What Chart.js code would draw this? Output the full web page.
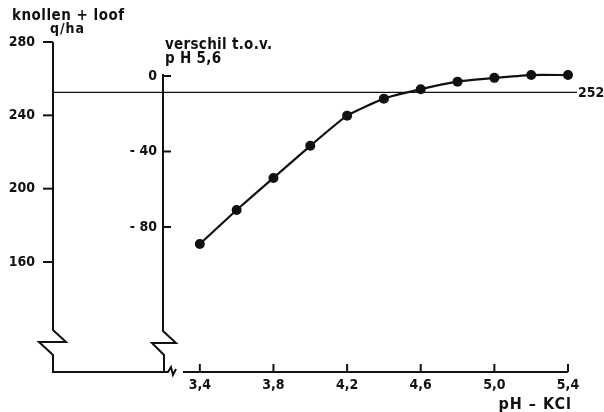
<!DOCTYPE html>
<html>
<head>
<meta charset="utf-8">
<script src="https://cdn.jsdelivr.net/npm/chart.js@4/dist/chart.umd.min.js"></script>
<style>
  html, body { margin: 0; padding: 0; background: #fff; }
  #wrap { width: 604px; height: 412px; }
</style>
</head>
<body>
<div id="wrap"><canvas id="chart" width="604" height="412"></canvas></div>
<script>
// values
var phValues   = [3.4, 3.6, 3.8, 4.0, 4.2, 4.4, 4.6, 4.8, 5.0, 5.2, 5.4];
var diffValues = [-89, -71, -54, -37, -21, -12, -7, -3, -1, 0.5, 0.5];
var xTicks     = [3.4, 3.8, 4.2, 4.6, 5.0, 5.4];
var diffTicks  = [0, -40, -80];
var yieldTicks = [160, 200, 240, 280];
var refYield   = 252;

var FONT = "'DejaVu Sans Condensed', 'DejaVu Sans', sans-serif";
Chart.defaults.font.family = FONT;
Chart.defaults.font.size = 14;
Chart.defaults.font.weight = 'bold';
Chart.defaults.color = '#111';

var comma = function(v){ return v.toFixed(1).replace('.', ','); };

var setTicks = function(list){
	return function(scale){
		scale.ticks = list.map(function(v){ return { value: v }; });
	};
};

var pointsData = phValues.map(function(p, i){ return { x: p, y: diffValues[i] }; });

var axesPlugin = {
	id: 'axesPlugin',
	afterDraw: function(chart){
		var ctx = chart.ctx;
		var area = chart.chartArea;
		var sx = chart.scales.x, sm = chart.scales.yMid, sl = chart.scales.yLeft;
		var bottom = area.bottom;
		var lx = sl.right, mx = sm.right;

		ctx.save();
		ctx.strokeStyle = '#111';
		ctx.fillStyle = '#111';
		ctx.lineWidth = 2;
		ctx.lineJoin = 'miter';

		// left axis with break
		ctx.beginPath();
		ctx.moveTo(lx, sl.getPixelForValue(280));
		ctx.lineTo(lx, bottom - 42);
		ctx.lineTo(lx + 13, bottom - 30);
		ctx.lineTo(lx - 14, bottom - 30);
		ctx.lineTo(lx, bottom - 17);
		ctx.lineTo(lx, bottom);
		ctx.lineTo(mx, bottom);
		ctx.stroke();
		yieldTicks.forEach(function(v){
			var y = sl.getPixelForValue(v);
			ctx.beginPath();
			ctx.moveTo(lx - 10, y);
			ctx.lineTo(lx, y);
			ctx.stroke();
		});

		// middle axis with break
		ctx.beginPath();
		ctx.moveTo(mx, sm.getPixelForValue(0) - 2);
		ctx.lineTo(mx, bottom - 41);
		ctx.lineTo(mx + 13, bottom - 29);
		ctx.lineTo(mx - 11, bottom - 29);
		ctx.lineTo(mx + 1, bottom - 17);
		ctx.lineTo(mx + 1, bottom);
		ctx.stroke();
		diffTicks.forEach(function(v){
			var y = sm.getPixelForValue(v);
			ctx.beginPath();
			ctx.moveTo(mx, y);
			ctx.lineTo(mx + 8, y);
			ctx.stroke();
		});

		// x axis with small break
		ctx.beginPath();
		ctx.moveTo(mx, bottom);
		ctx.lineTo(mx + 5, bottom);
		ctx.lineTo(mx + 8, bottom - 5);
		ctx.lineTo(mx + 10, bottom + 3);
		ctx.lineTo(mx + 13, bottom - 3);
		ctx.stroke();
		ctx.beginPath();
		ctx.moveTo(mx + 20, bottom);
		ctx.lineTo(area.right, bottom);
		ctx.stroke();
		xTicks.forEach(function(v){
			var x = sx.getPixelForValue(v);
			ctx.beginPath();
			ctx.moveTo(x, bottom - 8);
			ctx.lineTo(x, bottom);
			ctx.stroke();
		});

		// reference line 252
		var ry = sl.getPixelForValue(refYield) - 1;
		ctx.lineWidth = 1.4;
		ctx.beginPath();
		ctx.moveTo(lx, ry);
		ctx.lineTo(area.right + 9, ry);
		ctx.stroke();
		ctx.textBaseline = 'middle';
		ctx.textAlign = 'left';
		ctx.font = "bold 14px " + FONT;
		ctx.fillText(String(refYield), area.right + 10, ry + 1);

		// titles
		ctx.textBaseline = 'alphabetic';
		ctx.font = "bold 15px " + FONT;
		ctx.letterSpacing = '0.5px';
		ctx.fillText('knollen + loof', 12, 20);
		ctx.font = "bold 14px " + FONT;
		ctx.letterSpacing = '1px';
		ctx.fillText('q/ha', 50, 33);
		ctx.font = "bold 15px " + FONT;
		ctx.letterSpacing = '0.3px';
		ctx.fillText('verschil t.o.v.', 165, 49);
		ctx.fillText('p H 5,6', 165, 63);
		ctx.textAlign = 'right';
		ctx.font = "bold 16px " + FONT;
		ctx.letterSpacing = '1px';
		ctx.fillText('pH \u2013 KCl', area.right + 4, 409);
		ctx.restore();
	}
};

var chart = new Chart(document.getElementById('chart'), {
	type: 'line',
	data: {
		datasets: [{
			data: pointsData,
			yAxisID: 'yMid',
			borderColor: '#111',
			borderWidth: 2.2,
			backgroundColor: '#111',
			pointRadius: 5,
			pointBackgroundColor: '#111',
			pointBorderWidth: 0,
			tension: 0.15,
			clip: false
		}]
	},
	options: {
		responsive: false,
		animation: false,
		layout: { padding: { left: 0, right: 36, top: 42, bottom: 0 } },
		plugins: { legend: { display: false }, tooltip: { enabled: false } },
		scales: {
			x: {
				type: 'linear',
				position: 'bottom',
				min: 3.2,
				max: 5.4,
				grid: { display: false, drawTicks: false },
				border: { display: false },
				afterBuildTicks: setTicks(xTicks),
				afterFit: function(s){ s.height = 40; },
				ticks: { padding: 5, callback: function(v){ return comma(v); } }
			},
			yMid: {
				type: 'linear',
				position: 'left',
				weight: 0,
				min: -156.8,
				max: 18,
				grid: { display: false, drawTicks: false },
				border: { display: false },
				afterBuildTicks: setTicks(diffTicks),
				afterFit: function(s){ s.width = 110; },
				ticks: { padding: 6, callback: function(v){ return v === 0 ? '0' : '- ' + Math.abs(v); } }
			},
			yLeft: {
				type: 'linear',
				position: 'left',
				weight: 1,
				min: 100,
				max: 280,
				grid: { display: false, drawTicks: false },
				border: { display: false },
				afterBuildTicks: setTicks(yieldTicks),
				afterFit: function(s){ s.width = 53; },
				ticks: { padding: 18 }
			}
		}
	},
	plugins: [axesPlugin]
});
</script>
</body>
</html>
